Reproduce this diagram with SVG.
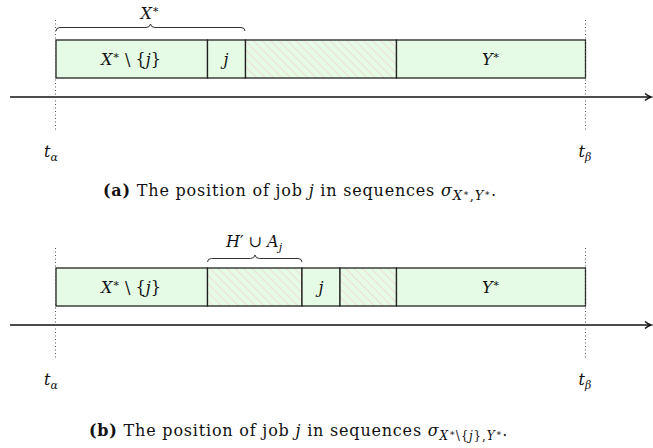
<svg xmlns="http://www.w3.org/2000/svg" width="653" height="448" viewBox="0 0 653 448">
<style>
.box{fill:#e5fbe5;stroke:#222;stroke-width:1.3}
.hat{fill:url(#hatch);stroke:#222;stroke-width:1.3}
.lbl{font-family:"DejaVu Serif",serif;font-size:16px;font-style:italic;fill:#111;text-anchor:middle}
.up{font-style:normal}
.cap{font-family:"DejaVu Serif",serif;font-size:16px;letter-spacing:0.8px;fill:#111}
.it{font-style:italic}
.axis{stroke:#111;stroke-width:1.6;fill:none}
.dot{stroke:#555;stroke-width:1;stroke-dasharray:1 2.5;fill:none}
.brace{stroke:#333;stroke-width:1;fill:none}
</style>
<defs>
<pattern id="hatch" patternUnits="userSpaceOnUse" width="6" height="6" patternTransform="rotate(-45)">
<rect width="6" height="6" fill="#e5fbe5"/>
<line x1="0" y1="0" x2="0" y2="6" stroke="#f6cccc" stroke-width="1.2"/>
</pattern>
<marker id="arr" markerWidth="10" markerHeight="10" refX="6" refY="5" orient="auto" markerUnits="userSpaceOnUse">
<path d="M1,1.5 Q4,4 7,5 Q4,6 1,8.5" fill="none" stroke="#111" stroke-width="1.6"/>
</marker>
</defs>

<!-- (a) -->
<g id="a-xj"><rect class="box" x="56" y="40" width="151.5" height="38"/><text class="lbl" x="131" y="65">X<tspan class="up" font-size="11" dy="-6">∗</tspan><tspan dy="6" class="up">  \  {</tspan>j<tspan class="up">}</tspan></text></g>
<g id="a-j"><rect class="box" x="207.5" y="40" width="38" height="38"/><text class="lbl" x="226" y="65">j</text></g>
<g id="a-h"><rect class="hat" x="245.5" y="40" width="151" height="38"/></g>
<g id="a-y"><rect class="box" x="396.5" y="40" width="189" height="38"/><text class="lbl" x="491" y="65">Y<tspan class="up" font-size="11" dy="-6">∗</tspan></text></g>

<g id="a-connectors">
<line class="axis" x1="10" y1="97" x2="650" y2="97" marker-end="url(#arr)"/>
<line class="dot" x1="55.5" y1="20" x2="55.5" y2="131"/>
<line class="dot" x1="585.5" y1="20" x2="585.5" y2="131"/>
<path class="brace" d="M56,31 Q56,27.5 60,27.5 L146,27.5 Q150,27.5 150.5,24 Q151,27.5 155,27.5 L241,27.5 Q245,27.5 245,31"/>
</g>
<text class="lbl" x="150" y="19">X<tspan class="up" font-size="11" dy="-6">∗</tspan></text>
<text class="lbl" x="51" y="157">t<tspan font-size="11" dy="4">α</tspan></text>
<text class="lbl" x="585" y="157">t<tspan font-size="11" dy="4">β</tspan></text>
<text class="cap" x="103" y="196"><tspan font-weight="bold">(a)</tspan> The position of job <tspan class="it">j</tspan> in sequences <tspan class="it">σ</tspan><tspan class="it" font-size="13" dy="4">X</tspan><tspan font-size="9" dy="-4">∗</tspan><tspan font-size="13" dy="4">,</tspan><tspan class="it" font-size="13">Y</tspan><tspan font-size="9" dy="-4">∗</tspan>.</text>

<!-- (b) -->
<g id="b-xj"><rect class="box" x="56" y="268" width="151.5" height="38"/><text class="lbl" x="131" y="293">X<tspan class="up" font-size="11" dy="-6">∗</tspan><tspan dy="6" class="up">  \  {</tspan>j<tspan class="up">}</tspan></text></g>
<g id="b-h1"><rect class="hat" x="207.5" y="268" width="94.5" height="38"/></g>
<g id="b-j"><rect class="box" x="302" y="268" width="38" height="38"/><text class="lbl" x="321" y="293">j</text></g>
<g id="b-h2"><rect class="hat" x="340" y="268" width="56.5" height="38"/></g>
<g id="b-y"><rect class="box" x="396.5" y="268" width="189" height="38"/><text class="lbl" x="491" y="293">Y<tspan class="up" font-size="11" dy="-6">∗</tspan></text></g>

<g id="b-connectors">
<line class="axis" x1="10" y1="325" x2="650" y2="325" marker-end="url(#arr)"/>
<line class="dot" x1="55.5" y1="248" x2="55.5" y2="359"/>
<line class="dot" x1="585.5" y1="248" x2="585.5" y2="359"/>
<path class="brace" d="M207.5,262 Q207.5,258.5 211.5,258.5 L250.5,258.5 Q254.5,258.5 255,255 Q255.5,258.5 259.5,258.5 L298,258.5 Q302,258.5 302,262"/>
</g>
<text class="lbl" x="254" y="247">H<tspan class="up">′ ∪ </tspan>A<tspan font-size="11" dy="4">j</tspan></text>
<text class="lbl" x="51" y="385">t<tspan font-size="11" dy="4">α</tspan></text>
<text class="lbl" x="585" y="385">t<tspan font-size="11" dy="4">β</tspan></text>
<text class="cap" x="89" y="436"><tspan font-weight="bold">(b)</tspan> The position of job <tspan class="it">j</tspan> in sequences <tspan class="it">σ</tspan><tspan class="it" font-size="12" dy="4">X</tspan><tspan font-size="9" dy="-4">∗</tspan><tspan font-size="12" dy="4">\{</tspan><tspan class="it" font-size="12">j</tspan><tspan font-size="12">},</tspan><tspan class="it" font-size="12">Y</tspan><tspan font-size="9" dy="-4">∗</tspan>.</text>
</svg>
